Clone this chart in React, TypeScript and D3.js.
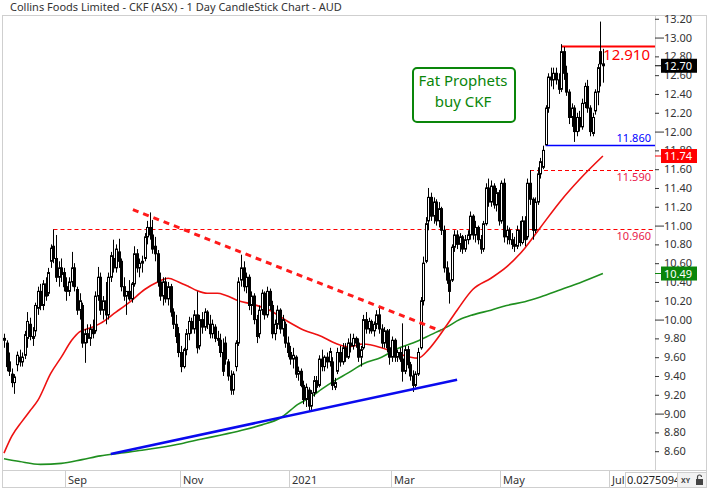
import React, { useLayoutEffect, useRef } from 'react';
import * as d3 from 'd3';

// ---- data ----
const title = 'Collins Foods Limited - CKF (ASX) - 1 Day CandleStick Chart - AUD';
const firstDay = '2020-07-29';
const holidays = [
  '2020-12-25', '2020-12-28', '2021-01-01', '2021-01-26',
  '2021-04-02', '2021-04-05', '2021-04-26', '2021-06-14',
];

// [open, high, low, close], one per trading day
const candles: [number, number, number, number][] = [
  [9.78, 9.85, 9.7, 9.8], [9.75, 9.78, 9.45, 9.5], [9.55, 9.65, 9.4, 9.45], [9.42, 9.48, 9.28, 9.33],
  [9.33, 9.42, 9.21, 9.39], [9.52, 9.66, 9.45, 9.62], [9.6, 9.68, 9.5, 9.55], [9.55, 9.65, 9.5, 9.6],
  [9.62, 9.88, 9.58, 9.84], [9.8, 10.08, 9.7, 9.98], [9.95, 10.02, 9.78, 9.82], [9.82, 9.92, 9.72, 9.8],
  [9.88, 10.18, 9.82, 10.15], [10.12, 10.35, 10.05, 10.3], [10.3, 10.38, 10.1, 10.15], [10.15, 10.42, 10.1, 10.38],
  [10.38, 10.45, 10.2, 10.25], [10.28, 10.55, 10.25, 10.5], [10.62, 10.8, 10.55, 10.76], [10.78, 10.96, 10.6, 10.65],
  [10.65, 10.9, 10.4, 10.45], [10.45, 10.62, 10.35, 10.55], [10.55, 10.65, 10.4, 10.48], [10.5, 10.55, 10.3, 10.35],
  [10.35, 10.45, 10.2, 10.3], [10.3, 10.45, 10.25, 10.4], [10.4, 10.72, 10.35, 10.55], [10.55, 10.6, 10.3, 10.35],
  [10.32, 10.35, 10.05, 10.1], [10.1, 10.28, 10.0, 10.2], [10.15, 10.18, 9.7, 9.75], [9.75, 9.9, 9.54, 9.85],
  [9.85, 9.95, 9.75, 9.8], [9.8, 9.95, 9.72, 9.9], [9.9, 10.0, 9.8, 9.85], [9.88, 10.3, 9.85, 10.25],
  [10.25, 10.56, 10.2, 10.45], [10.45, 10.5, 10.05, 10.1], [10.1, 10.25, 10.0, 10.2], [10.2, 10.4, 9.95, 10.05],
  [10.05, 10.5, 10.0, 10.45], [10.45, 10.72, 10.4, 10.68], [10.65, 10.85, 10.5, 10.55], [10.55, 10.8, 10.5, 10.75],
  [10.72, 10.86, 10.55, 10.62], [10.62, 10.65, 10.3, 10.35], [10.35, 10.45, 10.2, 10.25], [10.25, 10.3, 10.05, 10.3],
  [10.3, 10.42, 10.2, 10.22], [10.22, 10.4, 10.18, 10.38], [10.38, 10.78, 10.35, 10.7], [10.7, 10.75, 10.5, 10.55],
  [10.55, 10.65, 10.45, 10.6], [10.6, 10.68, 10.5, 10.62], [10.65, 10.92, 10.62, 10.88], [10.88, 11.05, 10.8, 10.98],
  [10.98, 11.14, 10.85, 10.9], [10.9, 11.06, 10.7, 10.75], [10.78, 10.88, 10.62, 10.7], [10.7, 10.74, 10.35, 10.4],
  [10.4, 10.5, 10.2, 10.25], [10.25, 10.45, 10.15, 10.4], [10.4, 10.45, 10.18, 10.22], [10.22, 10.4, 10.15, 10.35],
  [10.35, 10.38, 10.03, 10.08], [10.08, 10.12, 9.9, 9.95], [9.95, 10.05, 9.75, 9.82], [9.85, 9.92, 9.6, 9.65],
  [9.65, 9.72, 9.44, 9.5], [9.5, 9.7, 9.48, 9.68], [9.68, 9.9, 9.62, 9.85], [9.85, 10.03, 9.78, 9.98],
  [9.98, 10.02, 9.85, 9.9], [9.9, 10.1, 9.85, 10.05], [10.05, 10.3, 9.64, 9.7], [9.72, 10.05, 9.68, 10.0],
  [10.0, 10.08, 9.85, 9.92], [9.92, 10.12, 9.88, 10.08], [10.08, 10.1, 9.9, 9.95], [9.95, 10.05, 9.8, 9.85],
  [9.85, 10.0, 9.8, 9.95], [9.92, 9.95, 9.76, 9.8], [9.8, 9.88, 9.72, 9.78], [9.78, 9.85, 9.6, 9.65],
  [9.65, 9.8, 9.4, 9.45], [9.75, 9.82, 9.52, 9.58], [9.55, 9.58, 9.35, 9.4], [9.4, 9.46, 9.2, 9.25],
  [9.25, 9.45, 9.2, 9.42], [9.5, 9.78, 9.45, 9.75], [9.75, 10.45, 9.72, 10.4], [10.42, 10.69, 10.35, 10.55],
  [10.55, 10.62, 10.3, 10.35], [10.35, 10.5, 10.28, 10.45], [10.45, 10.48, 10.1, 10.15], [10.15, 10.3, 10.05, 10.25],
  [10.25, 10.28, 9.95, 10.0], [10.0, 10.05, 9.75, 9.82], [9.85, 10.15, 9.8, 10.1], [10.1, 10.32, 10.05, 10.28],
  [10.28, 10.3, 10.0, 10.05], [10.05, 10.35, 10.02, 10.3], [10.3, 10.33, 10.1, 10.15], [10.15, 10.2, 9.8, 9.85],
  [9.85, 10.0, 9.78, 9.95], [9.95, 10.15, 9.9, 10.1], [10.1, 10.12, 9.85, 9.9], [9.9, 10.05, 9.82, 10.0],
  [9.95, 9.98, 9.7, 9.75], [9.75, 9.82, 9.6, 9.65], [9.65, 9.72, 9.52, 9.58], [9.58, 9.7, 9.48, 9.62],
  [9.6, 9.62, 9.38, 9.42], [9.42, 9.5, 9.35, 9.45], [9.45, 9.48, 9.28, 9.3], [9.3, 9.35, 9.1, 9.15],
  [9.15, 9.32, 9.07, 9.28], [9.25, 9.28, 9.02, 9.08], [9.08, 9.25, 9.02, 9.22], [9.22, 9.4, 9.18, 9.35],
  [9.35, 9.4, 9.22, 9.28], [9.3, 9.62, 9.28, 9.58], [9.58, 9.68, 9.45, 9.5], [9.5, 9.62, 9.45, 9.6],
  [9.6, 9.65, 9.48, 9.55], [9.55, 9.7, 9.5, 9.66], [9.55, 9.6, 9.25, 9.3], [9.28, 9.38, 9.25, 9.33],
  [9.45, 9.7, 9.42, 9.65], [9.65, 9.72, 9.5, 9.55], [9.55, 9.75, 9.52, 9.7], [9.7, 9.75, 9.55, 9.6],
  [9.6, 9.8, 9.58, 9.75], [9.75, 9.85, 9.65, 9.72], [9.72, 9.85, 9.68, 9.8], [9.8, 9.82, 9.7, 9.75],
  [9.75, 9.8, 9.55, 9.6], [9.6, 9.72, 9.5, 9.68], [9.7, 10.05, 9.68, 10.0], [10.0, 10.08, 9.85, 9.9],
  [9.9, 10.02, 9.85, 9.98], [9.98, 10.0, 9.85, 9.88], [9.88, 9.98, 9.82, 9.95], [9.95, 10.1, 9.9, 10.05],
  [10.05, 10.13, 9.85, 9.9], [9.9, 9.95, 9.7, 9.75], [9.75, 9.92, 9.7, 9.88], [9.88, 9.9, 9.65, 9.7],
  [9.7, 9.9, 9.52, 9.6], [9.6, 9.82, 9.55, 9.78], [9.78, 9.8, 9.55, 9.6], [9.6, 9.68, 9.55, 9.65],
  [9.65, 9.7, 9.55, 9.58], [9.58, 9.96, 9.34, 9.45], [9.45, 9.72, 9.42, 9.68], [9.68, 9.72, 9.48, 9.52],
  [9.52, 9.55, 9.35, 9.4], [9.4, 9.46, 9.23, 9.3], [9.3, 9.45, 9.28, 9.42], [9.42, 9.7, 9.4, 9.65],
  [9.7, 10.24, 9.68, 10.2], [10.2, 10.67, 10.15, 10.6], [10.62, 11.09, 10.6, 11.02], [11.05, 11.4, 10.95, 11.3],
  [11.3, 11.35, 11.05, 11.1], [11.1, 11.3, 11.02, 11.25], [11.25, 11.28, 11.0, 11.05], [11.05, 11.25, 10.98, 11.18],
  [11.18, 11.2, 10.9, 10.95], [10.95, 11.0, 10.5, 10.55], [10.55, 10.62, 10.38, 10.42], [10.42, 10.5, 10.17, 10.3],
  [10.42, 10.8, 10.4, 10.77], [10.77, 10.95, 10.72, 10.9], [10.9, 10.95, 10.75, 10.8], [10.8, 10.92, 10.72, 10.88],
  [10.88, 10.9, 10.7, 10.75], [10.75, 10.9, 10.72, 10.85], [10.85, 10.95, 10.8, 10.9], [10.9, 11.15, 10.85, 11.1],
  [11.1, 11.12, 10.85, 10.9], [10.9, 11.05, 10.82, 10.98], [10.98, 11.0, 10.8, 10.85], [10.85, 10.9, 10.7, 10.75],
  [10.75, 11.05, 10.72, 11.02], [11.02, 11.45, 11.0, 11.4], [11.4, 11.5, 11.2, 11.25], [11.25, 11.48, 11.2, 11.42],
  [11.42, 11.45, 11.18, 11.22], [11.22, 11.4, 11.15, 11.35], [11.35, 11.38, 11.0, 11.05], [11.05, 11.48, 11.02, 11.45],
  [11.45, 11.5, 10.82, 10.88], [10.88, 11.0, 10.8, 10.95], [10.95, 10.98, 10.8, 10.85], [10.85, 10.92, 10.75, 10.8],
  [10.8, 10.88, 10.72, 10.78], [10.78, 11.0, 10.75, 10.95], [10.95, 11.05, 10.78, 10.82], [10.82, 11.1, 10.8, 11.05],
  [11.05, 11.1, 10.78, 10.85], [10.88, 11.5, 10.85, 11.45], [11.45, 11.59, 11.22, 11.28], [11.28, 11.3, 10.85, 10.95],
  [10.95, 11.3, 10.92, 11.25], [11.25, 11.62, 11.22, 11.55], [11.55, 11.72, 11.5, 11.68], [11.62, 11.85, 11.6, 11.8],
  [11.86, 12.28, 11.86, 12.25], [12.25, 12.62, 12.2, 12.58], [12.58, 12.68, 12.48, 12.55], [12.55, 12.68, 12.45, 12.62],
  [12.62, 12.68, 12.5, 12.55], [12.55, 12.62, 12.4, 12.45], [12.45, 12.93, 12.42, 12.85], [12.85, 12.9, 12.55, 12.62],
  [12.62, 12.7, 12.38, 12.42], [12.42, 12.45, 12.08, 12.15], [12.15, 12.3, 12.05, 12.25], [12.25, 12.28, 11.89, 12.0],
  [12.0, 12.2, 11.95, 12.15], [12.15, 12.22, 12.0, 12.05], [12.05, 12.35, 12.02, 12.3], [12.3, 12.52, 12.25, 12.48],
  [12.48, 12.55, 12.2, 12.25], [12.25, 12.28, 11.95, 12.0], [11.98, 12.2, 11.95, 12.15], [12.22, 12.45, 12.18, 12.42],
  [12.42, 12.72, 12.28, 12.68], [12.85, 13.17, 12.48, 12.72], [12.72, 12.88, 12.52, 12.7],
];

// moving averages, [trading day index, value]
const redAverage: [number, number][] = [
  [0, 8.58], [3, 8.76], [7, 8.92], [10, 9.03], [13, 9.14], [18, 9.43], [22, 9.6], [26, 9.78],
  [29, 9.87], [33, 9.91], [37, 9.96], [43, 10.08], [48, 10.18], [54, 10.32], [59, 10.4], [63, 10.44],
  [67, 10.4], [71, 10.35], [74, 10.31], [78, 10.28], [82, 10.28], [85, 10.26], [90, 10.2], [96, 10.16],
  [102, 10.1], [109, 9.98], [115, 9.89], [122, 9.82], [127, 9.75], [132, 9.71], [138, 9.74], [145, 9.7],
  [151, 9.64], [159, 9.59], [163, 9.68], [167, 9.82], [170, 9.94], [174, 10.1], [180, 10.32], [187, 10.44],
  [193, 10.56], [200, 10.76], [206, 10.98], [214, 11.27], [221, 11.49], [230, 11.74],
];
const greenAverage: [number, number][] = [
  [0, 8.52], [6, 8.49], [14, 8.46], [22, 8.47], [30, 8.51], [37, 8.55], [45, 8.58], [53, 8.61],
  [60, 8.64], [68, 8.68], [76, 8.73], [83, 8.77], [91, 8.82], [99, 8.88], [106, 8.95], [113, 9.1],
  [118, 9.18], [122, 9.26], [127, 9.35], [132, 9.43], [138, 9.53], [145, 9.6], [151, 9.69], [157, 9.75],
  [164, 9.84], [170, 9.92], [175, 10.0], [180, 10.05], [187, 10.1], [193, 10.15], [200, 10.19], [206, 10.24],
  [214, 10.32], [221, 10.39], [230, 10.49],
];

// trend lines drawn on the chart, [trading day index, price]
const supportLine: [number, number][] = [[41, 8.57], [174, 9.36]];
const resistanceLine: [number, number][] = [[49.5, 11.17], [167.7, 9.88]];

// horizontal levels and the day each one starts from
const levelValues = [12.91, 11.86, 11.59, 10.96];
const levelStarts = [214, 208, 202, 19];

const priceTicks = d3.range(8.6, 13.21, 0.2).map((v) => +v.toFixed(2));
const noteLines = ['Fat Prophets', 'buy CKF'];
const cornerValue = '0.0275094';

const font = '"Noto Sans", "Open Sans", sans-serif';

const tradingDays = (count: number) => {
  const out: Date[] = [];
  const d = new Date(firstDay + 'T00:00:00');
  const fmt = d3.timeFormat('%Y-%m-%d');
  while (out.length < count) {
    const wd = d.getDay();
    if (wd !== 0 && wd !== 6 && !holidays.includes(fmt(d))) out.push(new Date(d));
    d.setDate(d.getDate() + 1);
  }
  return out;
};

const chart = (svgEl: SVGSVGElement) => {
  const svg = d3.select(svgEl);
  svg.selectAll('*').remove();

  const plot = { left: 2, right: 655, top: 15, bottom: 470 };
  const slots = 250;
  const days = tradingDays(slots + 1);

  const x = d3.scaleLinear().domain([0, slots]).range([4, 655]);
  const y = d3.scaleLinear().domain([8.4, 13.24]).range([470, 15]);

  const defs = svg.append('defs');
  defs
    .append('clipPath')
    .attr('id', 'plot-clip')
    .append('rect')
    .attr('x', plot.left)
    .attr('y', plot.top)
    .attr('width', plot.right - plot.left)
    .attr('height', plot.bottom - plot.top);
  defs
    .append('clipPath')
    .attr('id', 'corner-clip')
    .append('rect')
    .attr('x', 626)
    .attr('y', 472)
    .attr('width', 51)
    .attr('height', 16);

  // title
  svg
    .append('text')
    .attr('x', 10)
    .attr('y', 11)
    .attr('font-size', 11)
    .attr('fill', '#333')
    .text(title);

  // frame
  svg
    .append('rect')
    .attr('x', 2.5)
    .attr('y', 15.5)
    .attr('width', 704)
    .attr('height', 472)
    .attr('fill', 'none')
    .attr('stroke', '#cfcfcf');
  svg
    .append('line')
    .attr('x1', 655.5)
    .attr('x2', 655.5)
    .attr('y1', 15)
    .attr('y2', 470)
    .attr('stroke', '#cfcfcf');
  svg
    .append('line')
    .attr('x1', 2)
    .attr('x2', 707)
    .attr('y1', 470.5)
    .attr('y2', 470.5)
    .attr('stroke', '#cfcfcf');

  const g = svg.append('g').attr('clip-path', 'url(#plot-clip)');

  // horizontal levels
  const levelColor = ['#ff0000', '#0000ff', '#ff0000', '#ff0000'];
  levelValues.forEach((v, k) => {
    const yy = Math.round(y(v)) + 0.5;
    g.append('line')
      .attr('x1', x(levelStarts[k]))
      .attr('x2', plot.right)
      .attr('y1', yy)
      .attr('y2', yy)
      .attr('stroke', levelColor[k])
      .attr('stroke-width', k === 0 ? 2 : k === 1 ? 1.5 : 1)
      .attr('stroke-dasharray', k >= 2 ? '4,3' : null);
  });

  // moving averages
  const ma = d3
    .line<[number, number]>()
    .x((d) => x(d[0]))
    .y((d) => y(d[1]))
    .curve(d3.curveMonotoneX);
  g.append('path')
    .attr('d', ma(greenAverage))
    .attr('fill', 'none')
    .attr('stroke', '#1f8f1f')
    .attr('stroke-width', 1.6);
  g.append('path')
    .attr('d', ma(redAverage))
    .attr('fill', 'none')
    .attr('stroke', '#ee1111')
    .attr('stroke-width', 1.6);

  // candles
  const cg = g.append('g');
  candles.forEach(([o, h, l, c], i) => {
    const cx = Math.round(x(i)) + 0.5;
    cg.append('line')
      .attr('x1', cx)
      .attr('x2', cx)
      .attr('y1', y(h))
      .attr('y2', y(l))
      .attr('stroke', '#000')
      .attr('stroke-width', 1);
    const top = y(Math.max(o, c));
    const hgt = Math.max(1, Math.abs(y(o) - y(c)));
    cg.append('rect')
      .attr('x', cx - 1)
      .attr('y', top)
      .attr('width', 2)
      .attr('height', hgt)
      .attr('fill', c >= o ? '#fff' : '#000')
      .attr('stroke', '#000')
      .attr('stroke-width', 1);
  });

  // trend lines
  const straight = d3
    .line<[number, number]>()
    .x((d) => x(d[0]))
    .y((d) => y(d[1]));
  g.append('path')
    .attr('d', straight(supportLine))
    .attr('stroke', '#0a0aee')
    .attr('stroke-width', 2.5)
    .attr('fill', 'none');
  g.append('path')
    .attr('d', straight(resistanceLine))
    .attr('stroke', '#ff1a1a')
    .attr('stroke-width', 3)
    .attr('stroke-dasharray', '6,5')
    .attr('fill', 'none');

  // level labels
  const labelColor = ['#ff0000', '#0000ff', '#e8194b', '#e8194b'];
  levelValues.forEach((v, k) => {
    svg
      .append('text')
      .attr('x', k === 0 ? 650 : 651)
      .attr('y', k === 0 ? y(v) + 14 : k === 1 ? y(v) - 3 : y(v) + 11)
      .attr('text-anchor', 'end')
      .attr('font-size', k === 0 ? 15 : 11)
      .attr('fill', labelColor[k])
      .text(v.toFixed(3));
  });

  // note box
  const note = svg.append('g');
  note
    .append('rect')
    .attr('x', 413)
    .attr('y', 68)
    .attr('width', 102)
    .attr('height', 54)
    .attr('rx', 4)
    .attr('fill', '#fff')
    .attr('stroke', '#0a860a')
    .attr('stroke-width', 2);
  noteLines.forEach((t, k) => {
    note
      .append('text')
      .attr('x', 463)
      .attr('y', 86 + k * 21)
      .attr('text-anchor', 'middle')
      .attr('font-size', 15)
      .attr('fill', '#0a860a')
      .text(t);
  });

  // right price axis
  const axis = d3
    .axisRight(y)
    .tickValues(priceTicks)
    .tickSize(4)
    .tickPadding(5)
    .tickFormat(d3.format('.2f'));
  const ag = svg
    .append('g')
    .attr('transform', `translate(${plot.right},0)`)
    .call(axis);
  ag.select('.domain').remove();
  ag.selectAll('.tick line').attr('stroke', '#333');
  ag.selectAll<SVGLineElement, number>('.tick line')
    .filter((d) => Math.abs(d - Math.round(d)) < 1e-6)
    .attr('x2', 9);
  ag.selectAll('.tick text').attr('font-size', 11).attr('fill', '#333').attr('font-family', font);

  // last value tags
  const tags = [
    { v: candles[candles.length - 1][3], c: '#000' },
    { v: redAverage[redAverage.length - 1][1], c: '#ff0000' },
    { v: greenAverage[greenAverage.length - 1][1], c: '#0a860a' },
  ];
  tags.forEach(({ v, c }) => {
    const yy = y(v);
    svg
      .append('line')
      .attr('x1', plot.right)
      .attr('x2', 661)
      .attr('y1', yy)
      .attr('y2', yy)
      .attr('stroke', c);
    svg
      .append('rect')
      .attr('x', 661)
      .attr('y', yy - 7)
      .attr('width', 36)
      .attr('height', 14)
      .attr('fill', c);
    svg
      .append('text')
      .attr('x', 664)
      .attr('y', yy + 4)
      .attr('font-size', 11)
      .attr('fill', '#fff')
      .text(v.toFixed(2));
  });

  // bottom month band
  const monthFmt = d3.timeFormat('%b');
  const bg = svg.append('g');
  days.forEach((d, i) => {
    if (i === 0) return;
    const m = d.getMonth();
    if (m === days[i - 1].getMonth() || m % 2 !== 0) return;
    const xx = Math.round(x(i - 0.5)) + 0.5;
    bg.append('line')
      .attr('x1', xx)
      .attr('x2', xx)
      .attr('y1', 470)
      .attr('y2', 488)
      .attr('stroke', '#cfcfcf');
    bg.append('text')
      .attr('x', xx + 2.5)
      .attr('y', 484)
      .attr('font-size', 11)
      .attr('fill', '#333')
      .text(m === 0 ? String(d.getFullYear()) : monthFmt(d));
  });

  // corner readout
  svg
    .append('rect')
    .attr('x', 625.5)
    .attr('y', 472.5)
    .attr('width', 52)
    .attr('height', 15)
    .attr('fill', '#fff')
    .attr('stroke', '#cfcfcf');
  svg
    .append('text')
    .attr('x', 627)
    .attr('y', 484)
    .attr('font-size', 11)
    .attr('fill', '#222')
    .attr('clip-path', 'url(#corner-clip)')
    .text(cornerValue);
  svg
    .append('rect')
    .attr('x', 677.5)
    .attr('y', 472.5)
    .attr('width', 29)
    .attr('height', 15)
    .attr('fill', '#f2f2f2')
    .attr('stroke', '#cfcfcf');
  svg
    .append('text')
    .attr('x', 681)
    .attr('y', 483)
    .attr('font-size', 7)
    .attr('font-weight', 'bold')
    .attr('fill', '#444')
    .text('XY');
  svg
    .append('rect')
    .attr('x', 696)
    .attr('y', 479)
    .attr('width', 7)
    .attr('height', 6)
    .attr('fill', '#444');
  svg
    .append('path')
    .attr('d', 'M697.5,479 v-2 a2,2 0 0 1 4,0')
    .attr('fill', 'none')
    .attr('stroke', '#444')
    .attr('stroke-width', 1.2);
};

export default function App() {
  const ref = useRef<SVGSVGElement>(null);

  useLayoutEffect(() => {
    if (ref.current) chart(ref.current);
  }, []);

  return (
    <svg
      ref={ref}
      width={709}
      height={491}
      style={{ position: 'absolute', left: 0, top: 0, fontFamily: font, background: '#fff' }}
    />
  );
}
